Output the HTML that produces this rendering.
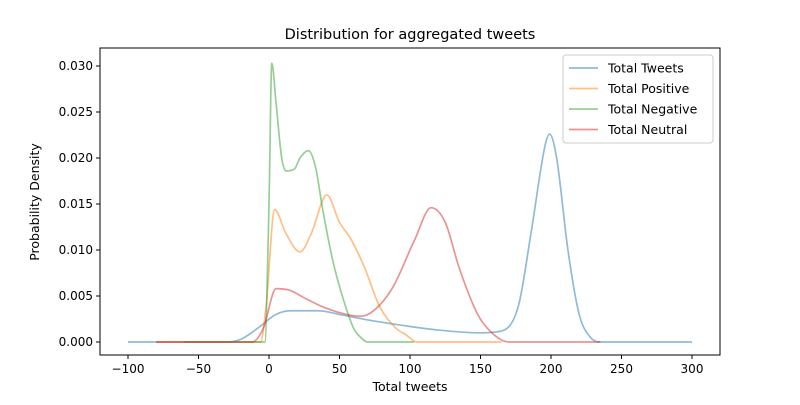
<!DOCTYPE html>
<html><head><meta charset="utf-8"><style>
body{margin:0;background:#fff}
svg{font-family:"DejaVu Sans","Liberation Sans",sans-serif}
</style></head><body>
<svg id="c" width="800" height="400"></svg>
<script>
const xTicks=[-100,-50,0,50,100,150,200,250,300];
const yTicks=[0,0.005,0.01,0.015,0.02,0.025,0.03];
const yTickLabels=["0.000","0.005","0.010","0.015","0.020","0.025","0.030"];
const seriesNames=["Total Tweets","Total Positive","Total Negative","Total Neutral"];
const tweetsX=[-100,-30,-20,-8,5,15,35,50,70,95,120,150,165,177,186,196,199,204,212,220,228,235,300];
const tweetsY=[0,0,0.0003,0.0015,0.003,0.0034,0.0034,0.0030,0.0024,0.0018,0.0013,0.001,0.0012,0.004,0.012,0.0215,0.0226,0.020,0.010,0.003,0.0005,0,0];
const positiveX=[-80,-6,-2,4,12,22,30,41,50,58,68,78,90,97,105,165];
const positiveY=[0,0,0.004,0.0144,0.0118,0.0098,0.0118,0.0160,0.013,0.0112,0.008,0.004,0.0015,0.0008,0,0];
const negativeX=[-60,-3,0,2,5,9,12,18,22,28,33,38,45,52,60,65,70,103];
const negativeY=[0,0,0.015,0.0303,0.026,0.0200,0.0186,0.0188,0.0200,0.0208,0.019,0.0145,0.009,0.005,0.0015,0.0005,0,0];
const neutralX=[-80,-12,-4,5,15,25,40,55,65,75,88,103,115,125,135,148,158,170,235];
const neutralY=[0,0,0.0015,0.0058,0.0056,0.0048,0.0037,0.0030,0.0028,0.0035,0.006,0.011,0.0146,0.013,0.008,0.003,0.001,0,0];
const colors=["#1f77b4","#ff7f0e","#2ca02c","#d62728"];
const L=100,R=720,T=48,B=355;
const sx=v=>269+v*(692-128)/400;
const sy=v=>342-v*(342-66)/0.03;
const svg=document.getElementById('c');
const NS="http://www.w3.org/2000/svg";
function mk(t,a,txt){const e=document.createElementNS(NS,t);for(const k in a)e.setAttribute(k,a[k]);if(txt!=null)e.textContent=txt;svg.appendChild(e);return e;}
function monotone(xs,ys){
  const n=xs.length,px=xs.map(sx),py=ys.map(sy);
  const d=[],m=[];
  for(let i=0;i<n-1;i++)d.push((py[i+1]-py[i])/(px[i+1]-px[i]));
  for(let i=0;i<n;i++){
    if(i==0)m.push(d[0]);else if(i==n-1)m.push(d[n-2]);
    else m.push(d[i-1]*d[i]<=0?0:(d[i-1]+d[i])/2);
  }
  for(let i=0;i<n-1;i++){
    if(d[i]==0){m[i]=0;m[i+1]=0;continue;}
    const a=m[i]/d[i],b=m[i+1]/d[i],s=a*a+b*b;
    if(s>9){const t=3/Math.sqrt(s);m[i]=t*a*d[i];m[i+1]=t*b*d[i];}
  }
  let p="M"+px[0]+","+py[0];
  for(let i=0;i<n-1;i++){
    const h=(px[i+1]-px[i])/3;
    p+=" C"+(px[i]+h)+","+(py[i]+m[i]*h)+" "+(px[i+1]-h)+","+(py[i+1]-m[i+1]*h)+" "+px[i+1]+","+py[i+1];
  }
  return p;
}
const t=mk('text',{x:410,y:39,'text-anchor':'middle','font-size':14.5,fill:'#000'},"Distribution for aggregated tweets");


const data=[[tweetsX,tweetsY],[positiveX,positiveY],[negativeX,negativeY],[neutralX,neutralY]];
data.forEach((s,i)=>{
  const p=mk('path',{d:monotone(s[0],s[1]),fill:'none',stroke:colors[i],'stroke-width':1.7,'stroke-opacity':0.5});
  
  
});
const f=mk('rect',{x:L,y:T,width:R-L,height:B-T,fill:'none',stroke:'#000','stroke-width':1});


xTicks.forEach(v=>{
  const x=sx(v);
  mk('line',{x1:x,x2:x,y1:B,y2:B+4,stroke:'#000'});
  const l=mk('text',{x:x,y:B+18,'text-anchor':'middle','font-size':12},String(v).replace('-','\u2212'));
  
  
});
yTicks.forEach((v,i)=>{
  const y=sy(v);
  mk('line',{x1:L-4,x2:L,y1:y,y2:y,stroke:'#000'});
  const l=mk('text',{x:L-7,y:y+4,'text-anchor':'end','font-size':12},yTickLabels[i]);
  
  
});
const xt=mk('text',{x:410,y:391,'text-anchor':'middle','font-size':12.5},"Total tweets");


const yt=mk('text',{x:39,y:202,'text-anchor':'middle','font-size':12.5,transform:'rotate(-90 39 202)'},"Probability Density");


const lg=mk('rect',{x:563,y:55,width:150,height:88,rx:3,fill:'#fff','fill-opacity':0.8,stroke:'#ccc'});


seriesNames.forEach((n,i)=>{
  const y=68+i*20.5;
  mk('line',{x1:569,x2:598,y1:y,y2:y,stroke:colors[i],'stroke-width':1.7,'stroke-opacity':0.5});
  const e=mk('text',{x:608,y:y+4.5,'font-size':12.5},n);
  
  
});
</script>
</body></html>
